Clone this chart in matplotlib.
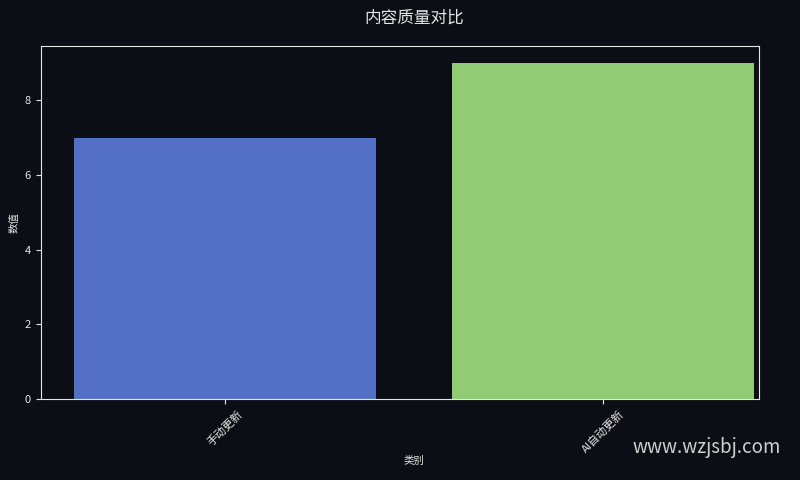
import matplotlib
matplotlib.use("Agg")
import matplotlib.pyplot as plt

plt.rcParams['font.family'] = ['Noto Sans CJK SC', 'DejaVu Sans']

categories = ["手动更新", "AI自动更新"]
values = [7, 9]
bar_colors = ["#5470c6", "#91cc75"]

bg = "#0b0e14"
fg = "#e6e6e6"

fig, ax = plt.subplots(figsize=(8, 4.8), dpi=100)
fig.patch.set_facecolor(bg)
ax.set_facecolor(bg)

ax.bar(categories, values, width=0.8, color=bar_colors)
ax.set_xlim(-0.487, 1.413)

# title and x label sit a little right of the axes centre in the reference
ax.set_title("内容质量对比", color=fg, fontsize=12, pad=17, x=0.52)
ax.set_xlabel("类别", color=fg, fontsize=7.5, x=0.52, labelpad=1)
ax.set_ylabel("数值", color=fg, fontsize=7.5)
ax.tick_params(colors=fg, labelsize=8)
plt.setp(ax.get_xticklabels(), rotation=45)
for s in ax.spines.values():
    s.set_color(fg)

fig.subplots_adjust(left=0.051, right=0.949, top=0.904, bottom=0.169)
fig.text(0.976, 0.045, "www.wzjsbj.com", color="#d0d0d0", fontsize=13.5,
         ha="right", va="bottom")

fig.savefig("out.png", facecolor=bg)
